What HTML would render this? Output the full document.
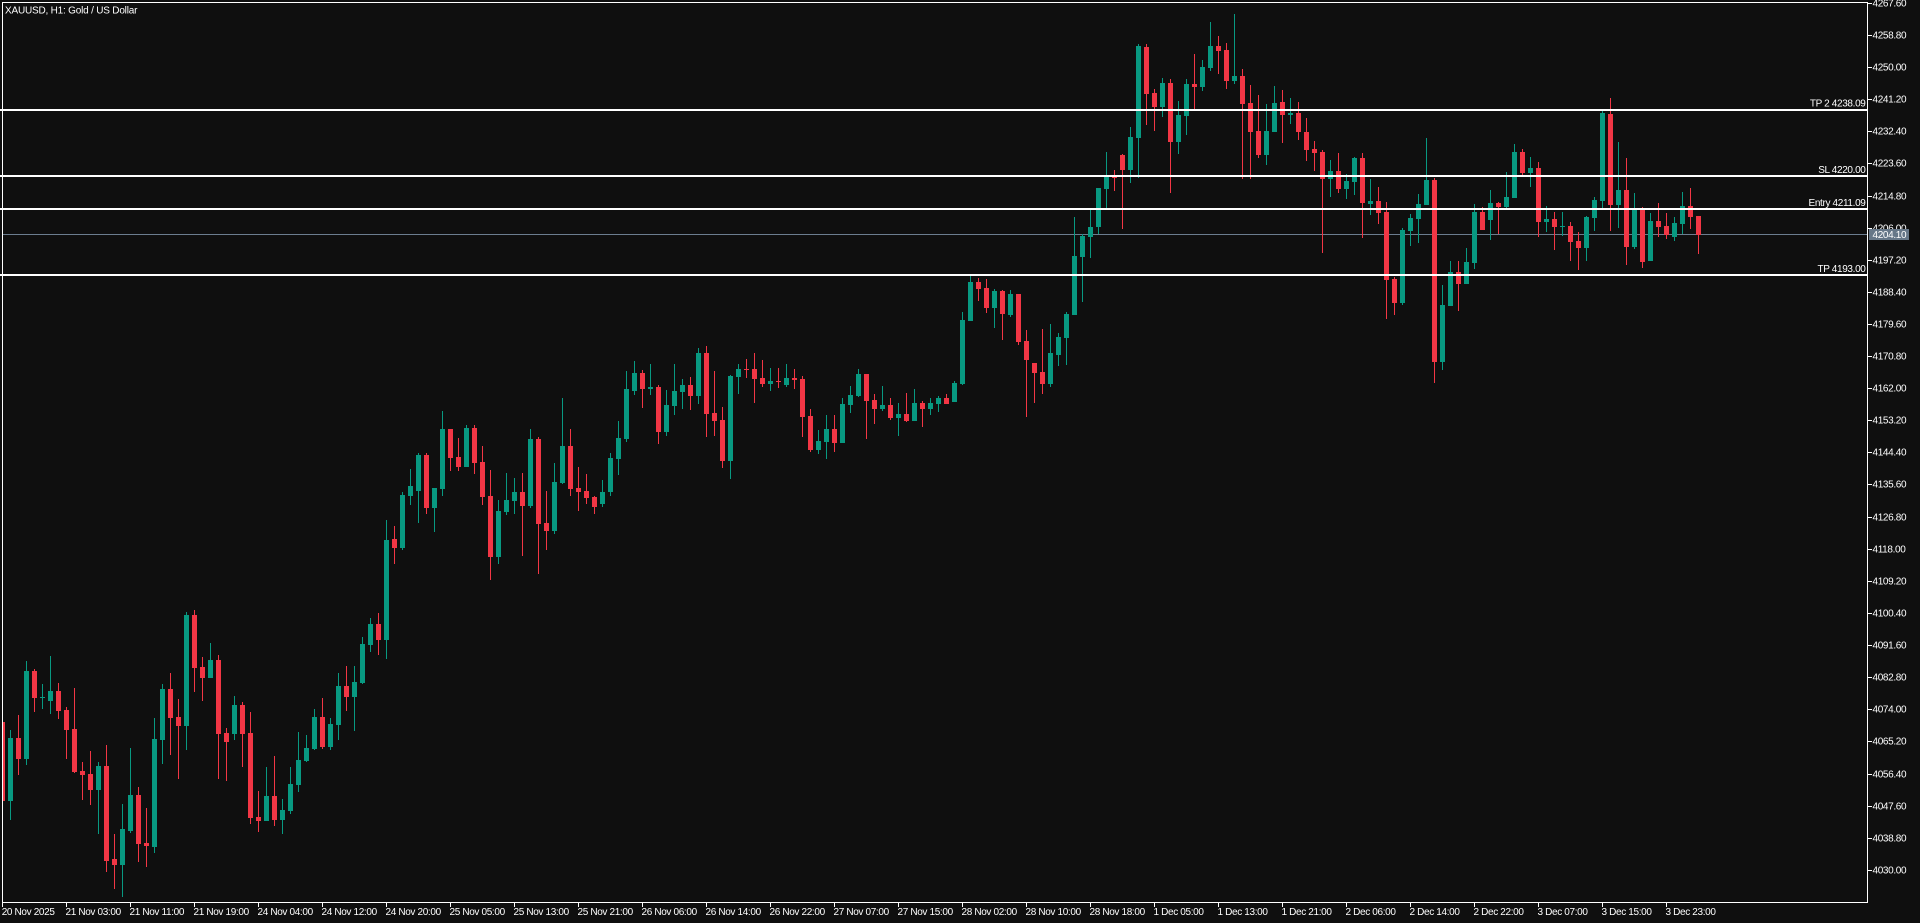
<!DOCTYPE html>
<html><head><meta charset="utf-8"><style>
html,body{margin:0;padding:0;background:#0f0f0f;overflow:hidden;}
svg{display:block;}
text{font-family:"Liberation Sans",Arial,sans-serif;font-size:10px;fill:#fff;letter-spacing:-0.35px;}
</style></head><body>
<svg width="1920" height="923" viewBox="0 0 1920 923" xmlns="http://www.w3.org/2000/svg" shape-rendering="crispEdges">
<defs><clipPath id="pc"><rect x="3" y="3" width="1864" height="899"/></clipPath></defs>
<rect x="0" y="0" width="1920" height="923" fill="#0f0f0f"/>
<!-- current price line -->
<rect x="3" y="234" width="1864" height="1" fill="#6c7d8f"/>
<g clip-path="url(#pc)">
<path fill="#f23645" d="M0,722h5V801h-5zM2,718h1V808h-1zM16,738h5V759h-5zM18,715h1V775h-1zM32,671h5V698h-5zM34,669h1V712h-1zM56,691h5V711h-5zM58,683h1V719h-1zM64,710h5V730h-5zM66,707h1V759h-1zM72,729h5V772h-5zM74,688h1V773h-1zM80,771h5V775h-5zM82,762h1V800h-1zM88,774h5V790h-5zM90,751h1V805h-1zM104,766h5V861h-5zM106,745h1V872h-1zM112,859h5V865h-5zM114,834h1V889h-1zM136,795h5V844h-5zM138,787h1V862h-1zM144,843h5V846h-5zM146,808h1V867h-1zM168,689h5V718h-5zM170,673h1V755h-1zM176,717h5V726h-5zM178,699h1V779h-1zM192,615h5V668h-5zM194,610h1V692h-1zM200,667h5V678h-5zM202,657h1V701h-1zM216,660h5V734h-5zM218,655h1V779h-1zM224,733h5V742h-5zM226,728h1V781h-1zM240,705h5V734h-5zM242,702h1V767h-1zM248,733h5V818h-5zM250,712h1V824h-1zM256,817h5V821h-5zM258,791h1V832h-1zM272,796h5V820h-5zM274,756h1V826h-1zM320,717h5V747h-5zM322,698h1V749h-1zM344,686h5V697h-5zM346,666h1V711h-1zM376,624h5V640h-5zM378,613h1V655h-1zM392,539h5V548h-5zM394,526h1V564h-1zM424,455h5V508h-5zM426,453h1V514h-1zM448,429h5V458h-5zM450,429h1V471h-1zM456,457h5V467h-5zM458,438h1V471h-1zM472,428h5V463h-5zM474,425h1V474h-1zM480,462h5V497h-5zM482,446h1V505h-1zM488,496h5V557h-5zM490,470h1V580h-1zM520,492h5V506h-5zM522,473h1V556h-1zM536,439h5V524h-5zM538,437h1V574h-1zM544,523h5V531h-5zM546,491h1V550h-1zM568,446h5V489h-5zM570,429h1V496h-1zM576,488h5V492h-5zM578,467h1V511h-1zM584,491h5V498h-5zM586,474h1V504h-1zM592,497h5V507h-5zM594,496h1V514h-1zM640,373h5V389h-5zM642,370h1V408h-1zM656,387h5V432h-5zM658,385h1V444h-1zM688,385h5V396h-5zM690,377h1V410h-1zM704,353h5V414h-5zM706,346h1V437h-1zM712,413h5V421h-5zM714,371h1V436h-1zM720,420h5V461h-5zM722,407h1V468h-1zM744,369h5V370h-5zM746,359h1V378h-1zM752,369h5V379h-5zM754,353h1V403h-1zM760,378h5V384h-5zM762,360h1V387h-1zM776,381h5V382h-5zM778,368h1V388h-1zM792,378h5V380h-5zM794,369h1V389h-1zM800,379h5V417h-5zM802,376h1V437h-1zM808,416h5V450h-5zM810,409h1V452h-1zM832,429h5V443h-5zM834,415h1V452h-1zM864,374h5V401h-5zM866,374h1V439h-1zM872,400h5V409h-5zM874,394h1V424h-1zM888,405h5V418h-5zM890,398h1V420h-1zM904,414h5V421h-5zM906,393h1V422h-1zM920,403h5V409h-5zM922,401h1V427h-1zM944,398h5V404h-5zM946,394h1V404h-1zM976,282h5V289h-5zM978,278h1V301h-1zM984,288h5V308h-5zM986,279h1V313h-1zM1000,291h5V314h-5zM1002,290h1V340h-1zM1016,294h5V342h-5zM1018,294h1V345h-1zM1024,341h5V360h-5zM1026,330h1V417h-1zM1032,363h5V373h-5zM1034,363h1V403h-1zM1040,372h5V384h-5zM1042,329h1V394h-1zM1112,177h5V178h-5zM1114,170h1V191h-1zM1120,155h5V170h-5zM1122,154h1V229h-1zM1144,47h5V94h-5zM1146,44h1V125h-1zM1152,93h5V107h-5zM1154,89h1V131h-1zM1168,83h5V142h-5zM1170,79h1V193h-1zM1192,84h5V87h-5zM1194,54h1V109h-1zM1216,46h5V51h-5zM1218,36h1V74h-1zM1224,50h5V81h-5zM1226,43h1V89h-1zM1240,76h5V104h-5zM1242,69h1V179h-1zM1248,103h5V132h-5zM1250,85h1V179h-1zM1256,131h5V155h-5zM1258,95h1V158h-1zM1280,102h5V115h-5zM1282,90h1V143h-1zM1296,113h5V132h-5zM1298,102h1V140h-1zM1304,132h5V150h-5zM1306,118h1V161h-1zM1312,149h5V153h-5zM1314,141h1V171h-1zM1320,152h5V179h-5zM1322,150h1V253h-1zM1336,171h5V189h-5zM1338,153h1V193h-1zM1360,158h5V203h-5zM1362,153h1V238h-1zM1376,201h5V213h-5zM1378,187h1V224h-1zM1384,212h5V280h-5zM1386,202h1V319h-1zM1392,279h5V303h-5zM1394,277h1V315h-1zM1432,180h5V362h-5zM1434,178h1V383h-1zM1456,272h5V284h-5zM1458,261h1V311h-1zM1480,212h5V230h-5zM1482,207h1V230h-1zM1496,203h5V207h-5zM1498,202h1V234h-1zM1520,152h5V173h-5zM1522,149h1V175h-1zM1536,168h5V222h-5zM1538,162h1V237h-1zM1552,219h5V227h-5zM1554,212h1V250h-1zM1568,226h5V242h-5zM1570,222h1V261h-1zM1576,241h5V248h-5zM1578,232h1V270h-1zM1608,114h5V205h-5zM1610,98h1V231h-1zM1624,190h5V247h-5zM1626,158h1V265h-1zM1640,209h5V262h-5zM1642,207h1V268h-1zM1656,221h5V227h-5zM1658,203h1V237h-1zM1664,226h5V235h-5zM1666,213h1V239h-1zM1688,206h5V217h-5zM1690,188h1V229h-1zM1696,216h5V235h-5zM1698,216h1V254h-1z"/>
<path fill="#089981" d="M8,738h5V801h-5zM10,730h1V820h-1zM24,671h5V759h-5zM26,661h1V765h-1zM40,697h5V698h-5zM42,684h1V709h-1zM48,691h5V701h-5zM50,656h1V714h-1zM96,766h5V790h-5zM98,762h1V834h-1zM120,829h5V865h-5zM122,804h1V897h-1zM128,795h5V831h-5zM130,748h1V833h-1zM152,739h5V847h-5zM154,718h1V853h-1zM160,689h5V740h-5zM162,684h1V764h-1zM184,615h5V726h-5zM186,612h1V750h-1zM208,660h5V678h-5zM210,643h1V678h-1zM232,705h5V734h-5zM234,696h1V740h-1zM264,796h5V821h-5zM266,767h1V821h-1zM280,810h5V820h-5zM282,799h1V834h-1zM288,784h5V811h-5zM290,767h1V814h-1zM296,760h5V785h-5zM298,732h1V792h-1zM304,748h5V761h-5zM306,735h1V762h-1zM312,717h5V749h-5zM314,709h1V750h-1zM328,724h5V747h-5zM330,718h1V750h-1zM336,686h5V725h-5zM338,673h1V740h-1zM352,682h5V697h-5zM354,666h1V731h-1zM360,644h5V683h-5zM362,637h1V684h-1zM368,624h5V645h-5zM370,618h1V652h-1zM384,540h5V640h-5zM386,520h1V659h-1zM400,495h5V548h-5zM402,492h1V550h-1zM408,486h5V496h-5zM410,469h1V505h-1zM416,455h5V491h-5zM418,453h1V523h-1zM432,488h5V508h-5zM434,488h1V532h-1zM440,429h5V489h-5zM442,411h1V496h-1zM464,428h5V467h-5zM466,425h1V467h-1zM496,511h5V557h-5zM498,500h1V564h-1zM504,500h5V512h-5zM506,473h1V515h-1zM512,492h5V501h-5zM514,478h1V514h-1zM528,439h5V506h-5zM530,429h1V508h-1zM552,482h5V531h-5zM554,463h1V534h-1zM560,446h5V483h-5zM562,398h1V484h-1zM600,492h5V504h-5zM602,480h1V507h-1zM608,458h5V492h-5zM610,453h1V496h-1zM616,438h5V459h-5zM618,421h1V475h-1zM624,389h5V439h-5zM626,371h1V442h-1zM632,373h5V391h-5zM634,361h1V395h-1zM648,387h5V389h-5zM650,364h1V395h-1zM664,405h5V432h-5zM666,390h1V436h-1zM672,391h5V406h-5zM674,364h1V415h-1zM680,385h5V392h-5zM682,379h1V409h-1zM696,353h5V396h-5zM698,348h1V404h-1zM728,376h5V461h-5zM730,375h1V479h-1zM736,369h5V377h-5zM738,364h1V394h-1zM768,381h5V384h-5zM770,368h1V391h-1zM784,378h5V385h-5zM786,364h1V387h-1zM816,441h5V450h-5zM818,430h1V454h-1zM824,429h5V442h-5zM826,415h1V459h-1zM840,404h5V443h-5zM842,398h1V443h-1zM848,395h5V405h-5zM850,386h1V413h-1zM856,374h5V396h-5zM858,369h1V397h-1zM880,405h5V409h-5zM882,386h1V411h-1zM896,414h5V418h-5zM898,403h1V436h-1zM912,403h5V421h-5zM914,389h1V421h-1zM928,403h5V409h-5zM930,398h1V415h-1zM936,398h5V404h-5zM938,396h1V412h-1zM952,383h5V402h-5zM954,381h1V402h-1zM960,320h5V384h-5zM962,312h1V385h-1zM968,282h5V321h-5zM970,276h1V321h-1zM992,291h5V308h-5zM994,289h1V328h-1zM1008,294h5V315h-5zM1010,290h1V317h-1zM1048,353h5V384h-5zM1050,324h1V387h-1zM1056,337h5V355h-5zM1058,333h1V366h-1zM1064,314h5V338h-5zM1066,312h1V365h-1zM1072,256h5V315h-5zM1074,217h1V315h-1zM1080,236h5V257h-5zM1082,234h1V302h-1zM1088,227h5V237h-5zM1090,209h1V258h-1zM1096,188h5V227h-5zM1098,188h1V234h-1zM1104,177h5V189h-5zM1106,152h1V208h-1zM1128,137h5V170h-5zM1130,127h1V183h-1zM1136,46h5V138h-5zM1138,44h1V178h-1zM1160,83h5V107h-5zM1162,78h1V117h-1zM1176,115h5V142h-5zM1178,101h1V154h-1zM1184,84h5V116h-5zM1186,79h1V135h-1zM1200,67h5V87h-5zM1202,60h1V91h-1zM1208,46h5V68h-5zM1210,22h1V71h-1zM1232,76h5V81h-5zM1234,14h1V84h-1zM1264,131h5V155h-5zM1266,104h1V165h-1zM1272,103h5V132h-5zM1274,86h1V132h-1zM1288,113h5V115h-5zM1290,98h1V124h-1zM1328,171h5V179h-5zM1330,160h1V197h-1zM1344,181h5V189h-5zM1346,174h1V199h-1zM1352,158h5V182h-5zM1354,157h1V195h-1zM1368,201h5V204h-5zM1370,179h1V215h-1zM1400,230h5V303h-5zM1402,228h1V305h-1zM1408,218h5V231h-5zM1410,214h1V246h-1zM1416,204h5V219h-5zM1418,194h1V243h-1zM1424,180h5V205h-5zM1426,138h1V205h-1zM1440,305h5V362h-5zM1442,285h1V370h-1zM1448,272h5V306h-5zM1450,261h1V306h-1zM1464,262h5V284h-5zM1466,248h1V284h-1zM1472,212h5V263h-5zM1474,204h1V269h-1zM1488,203h5V220h-5zM1490,190h1V240h-1zM1504,197h5V207h-5zM1506,172h1V208h-1zM1512,152h5V198h-5zM1514,144h1V198h-1zM1528,168h5V173h-5zM1530,157h1V187h-1zM1544,219h5V222h-5zM1546,206h1V232h-1zM1560,226h5V227h-5zM1562,212h1V236h-1zM1584,217h5V248h-5zM1586,216h1V261h-1zM1592,200h5V218h-5zM1594,197h1V231h-1zM1600,113h5V201h-5zM1602,111h1V208h-1zM1616,190h5V205h-5zM1618,142h1V228h-1zM1632,209h5V247h-5zM1634,193h1V249h-1zM1648,221h5V261h-5zM1650,213h1V261h-1zM1672,223h5V237h-5zM1674,217h1V241h-1zM1680,206h5V224h-5zM1682,192h1V234h-1z"/>
</g>
<!-- level lines -->
<g fill="#ffffff">
<rect x="0" y="109" width="1867" height="2"/>
<rect x="0" y="175" width="1867" height="2"/>
<rect x="0" y="208" width="1867" height="2"/>
<rect x="0" y="274" width="1867" height="2"/>
</g>
<g text-anchor="end">
<text x="1865.5" y="106.5">TP 2 4238.09</text>
<text x="1865.5" y="173">SL 4220.00</text>
<text x="1865.5" y="206">Entry 4211.09</text>
<text x="1865.5" y="272">TP 4193.00</text>
</g>
<!-- frame -->
<g fill="#ffffff">
<rect x="2" y="2" width="1866" height="1"/>
<rect x="2" y="2" width="1" height="901"/>
<rect x="1867" y="2" width="1" height="901"/>
<rect x="2" y="902" width="1866" height="1"/>
</g>
<!-- title -->
<text x="5" y="13.5" style="letter-spacing:-0.2px">XAUUSD, H1:  Gold / US Dollar</text>
<!-- y axis ticks -->
<g fill="#ffffff">
<rect x="1868" y="3" width="4" height="1"/><rect x="1868" y="35" width="4" height="1"/><rect x="1868" y="67" width="4" height="1"/><rect x="1868" y="99" width="4" height="1"/><rect x="1868" y="131" width="4" height="1"/><rect x="1868" y="163" width="4" height="1"/><rect x="1868" y="196" width="4" height="1"/><rect x="1868" y="228" width="4" height="1"/><rect x="1868" y="260" width="4" height="1"/><rect x="1868" y="292" width="4" height="1"/><rect x="1868" y="324" width="4" height="1"/><rect x="1868" y="356" width="4" height="1"/><rect x="1868" y="388" width="4" height="1"/><rect x="1868" y="420" width="4" height="1"/><rect x="1868" y="452" width="4" height="1"/><rect x="1868" y="484" width="4" height="1"/><rect x="1868" y="517" width="4" height="1"/><rect x="1868" y="549" width="4" height="1"/><rect x="1868" y="581" width="4" height="1"/><rect x="1868" y="613" width="4" height="1"/><rect x="1868" y="645" width="4" height="1"/><rect x="1868" y="677" width="4" height="1"/><rect x="1868" y="709" width="4" height="1"/><rect x="1868" y="741" width="4" height="1"/><rect x="1868" y="774" width="4" height="1"/><rect x="1868" y="806" width="4" height="1"/><rect x="1868" y="838" width="4" height="1"/><rect x="1868" y="870" width="4" height="1"/>
</g>
<g>
<text x="1872.5" y="6.5">4267.60</text>
<text x="1872.5" y="38.5">4258.80</text>
<text x="1872.5" y="70.5">4250.00</text>
<text x="1872.5" y="102.5">4241.20</text>
<text x="1872.5" y="134.5">4232.40</text>
<text x="1872.5" y="166.5">4223.60</text>
<text x="1872.5" y="199.5">4214.80</text>
<text x="1872.5" y="231.5">4206.00</text>
<text x="1872.5" y="263.5">4197.20</text>
<text x="1872.5" y="295.5">4188.40</text>
<text x="1872.5" y="327.5">4179.60</text>
<text x="1872.5" y="359.5">4170.80</text>
<text x="1872.5" y="391.5">4162.00</text>
<text x="1872.5" y="423.5">4153.20</text>
<text x="1872.5" y="455.5">4144.40</text>
<text x="1872.5" y="487.5">4135.60</text>
<text x="1872.5" y="520.5">4126.80</text>
<text x="1872.5" y="552.5">4118.00</text>
<text x="1872.5" y="584.5">4109.20</text>
<text x="1872.5" y="616.5">4100.40</text>
<text x="1872.5" y="648.5">4091.60</text>
<text x="1872.5" y="680.5">4082.80</text>
<text x="1872.5" y="712.5">4074.00</text>
<text x="1872.5" y="744.5">4065.20</text>
<text x="1872.5" y="777.5">4056.40</text>
<text x="1872.5" y="809.5">4047.60</text>
<text x="1872.5" y="841.5">4038.80</text>
<text x="1872.5" y="873.5">4030.00</text>
</g>
<!-- current price box -->
<rect x="1869" y="229" width="40" height="11" fill="#667788"/>
<text x="1872.5" y="238">4204.10</text>
<!-- x axis ticks -->
<g fill="#ffffff">
<rect x="2" y="903" width="1" height="4"/><rect x="66" y="903" width="1" height="4"/><rect x="130" y="903" width="1" height="4"/><rect x="194" y="903" width="1" height="4"/><rect x="258" y="903" width="1" height="4"/><rect x="322" y="903" width="1" height="4"/><rect x="386" y="903" width="1" height="4"/><rect x="450" y="903" width="1" height="4"/><rect x="514" y="903" width="1" height="4"/><rect x="578" y="903" width="1" height="4"/><rect x="642" y="903" width="1" height="4"/><rect x="706" y="903" width="1" height="4"/><rect x="770" y="903" width="1" height="4"/><rect x="834" y="903" width="1" height="4"/><rect x="898" y="903" width="1" height="4"/><rect x="962" y="903" width="1" height="4"/><rect x="1026" y="903" width="1" height="4"/><rect x="1090" y="903" width="1" height="4"/><rect x="1154" y="903" width="1" height="4"/><rect x="1218" y="903" width="1" height="4"/><rect x="1282" y="903" width="1" height="4"/><rect x="1346" y="903" width="1" height="4"/><rect x="1410" y="903" width="1" height="4"/><rect x="1474" y="903" width="1" height="4"/><rect x="1538" y="903" width="1" height="4"/><rect x="1602" y="903" width="1" height="4"/><rect x="1666" y="903" width="1" height="4"/>
</g>
<g>
<text x="1.7" y="915">20 Nov 2025</text>
<text x="65.5" y="915">21 Nov 03:00</text>
<text x="129.5" y="915">21 Nov 11:00</text>
<text x="193.5" y="915">21 Nov 19:00</text>
<text x="257.5" y="915">24 Nov 04:00</text>
<text x="321.5" y="915">24 Nov 12:00</text>
<text x="385.5" y="915">24 Nov 20:00</text>
<text x="449.5" y="915">25 Nov 05:00</text>
<text x="513.5" y="915">25 Nov 13:00</text>
<text x="577.5" y="915">25 Nov 21:00</text>
<text x="641.5" y="915">26 Nov 06:00</text>
<text x="705.5" y="915">26 Nov 14:00</text>
<text x="769.5" y="915">26 Nov 22:00</text>
<text x="833.5" y="915">27 Nov 07:00</text>
<text x="897.5" y="915">27 Nov 15:00</text>
<text x="961.5" y="915">28 Nov 02:00</text>
<text x="1025.5" y="915">28 Nov 10:00</text>
<text x="1089.5" y="915">28 Nov 18:00</text>
<text x="1153.5" y="915">1 Dec 05:00</text>
<text x="1217.5" y="915">1 Dec 13:00</text>
<text x="1281.5" y="915">1 Dec 21:00</text>
<text x="1345.5" y="915">2 Dec 06:00</text>
<text x="1409.5" y="915">2 Dec 14:00</text>
<text x="1473.5" y="915">2 Dec 22:00</text>
<text x="1537.5" y="915">3 Dec 07:00</text>
<text x="1601.5" y="915">3 Dec 15:00</text>
<text x="1665.5" y="915">3 Dec 23:00</text>
</g>
</svg>
</body></html>
